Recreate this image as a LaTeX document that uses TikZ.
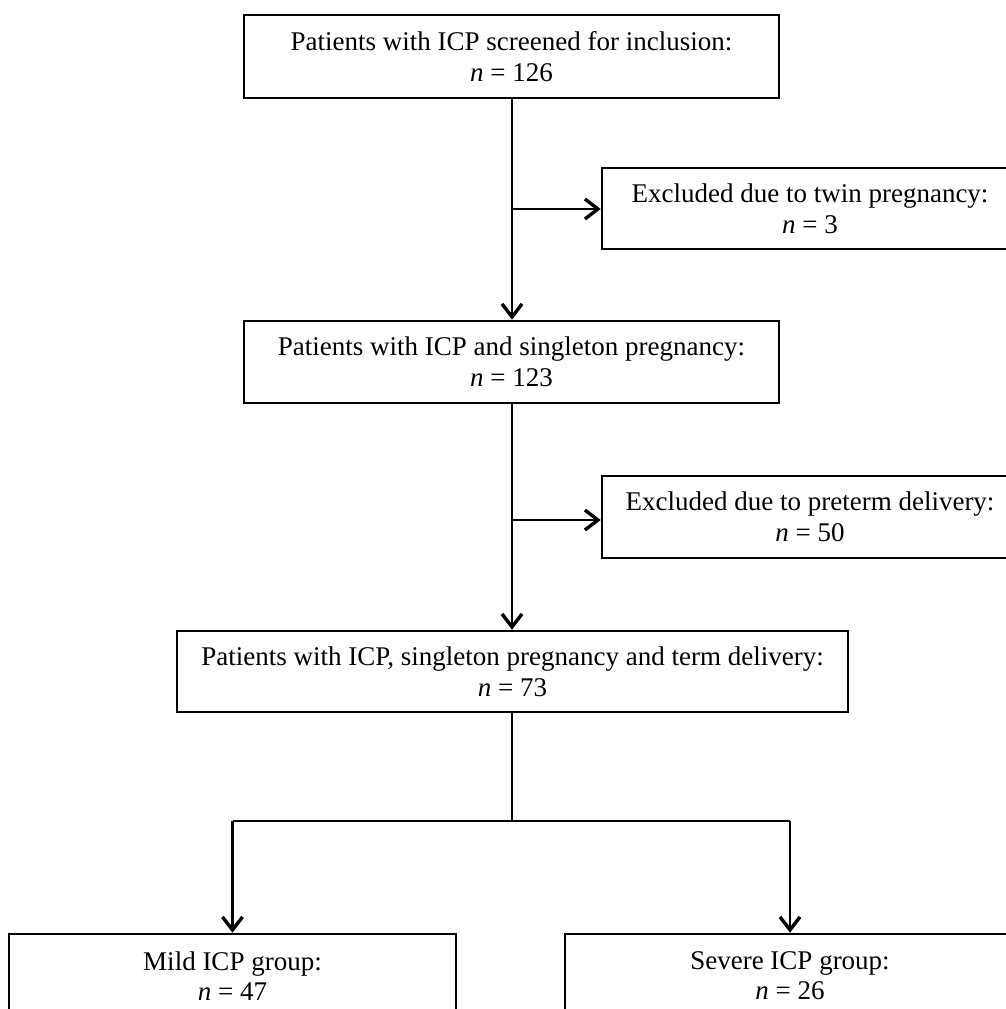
\documentclass[tikz,border=0pt]{standalone}
\usepackage{fontspec}
\setmainfont{Liberation Serif}
\usetikzlibrary{arrows.meta}
\tikzset{
  box/.style={draw, line width=2.6pt, align=center, inner sep=0pt,
    font=\fontsize{27}{30}\selectfont},
  conn/.style={line width=2.6pt},
  arr/.style={conn, -{Straight Barb[length=13pt,width=20pt,line width=3.4pt]}},
}
\begin{document}
\begin{tikzpicture}[x=1pt,y=-1pt]
\useasboundingbox (0,0) rectangle (1006,1009);
\clip (0,0) rectangle (1006,1009);
\fill[white] (0,0) rectangle (1006,1009);
\node[box, minimum width=535pt, minimum height=83pt] (b1) at (511.5,56.5)
  {Patients with ICP screened for inclusion:\\[1pt] \textit{n} = 126};
\node[box, minimum width=416pt, minimum height=81pt] (ex1) at (810,208.5)
  {Excluded due to twin pregnancy:\\[1pt] \textit{n} = 3};
\node[box, minimum width=535pt, minimum height=82pt] (b2) at (511.5,362)
  {Patients with ICP and singleton pregnancy:\\[1pt] \textit{n} = 123};
\node[box, minimum width=416pt, minimum height=82pt] (ex2) at (810,517)
  {Excluded due to preterm delivery:\\[1pt] \textit{n} = 50};
\node[box, minimum width=671pt, minimum height=81pt] (b3) at (512.5,671.5)
  {Patients with ICP, singleton pregnancy and term delivery:\\[1pt] \textit{n} = 73};
\node[box, minimum width=447pt, minimum height=84pt] (g1) at (232.5,976)
  {Mild ICP group:\\ \textit{n} = 47};
\node[box, minimum width=450pt, minimum height=84pt] (g2) at (790,976)
  {Severe ICP group:\\ \textit{n} = 26};
\coordinate (s1) at (512,209);
\coordinate (s2) at (512,520);
\coordinate (s3) at (512,821);
\draw[arr] (b1.south -| s1) -- (b2.north -| s1);
\draw[arr] (s1) -- (s1 -| ex1.west);
\draw[arr] (b2.south -| s2) -- (b3.north -| s2);
\draw[arr] (s2) -- (s2 -| ex2.west);
\draw[conn] (b3.south -| s3) -- (s3);
\draw[conn] (s3 -| g1.north) -- (s3 -| g2.north);
\draw[arr] (s3 -| g1.north) -- (g1.north);
\draw[arr] (s3 -| g2.north) -- (g2.north);
\end{tikzpicture}
\end{document}
